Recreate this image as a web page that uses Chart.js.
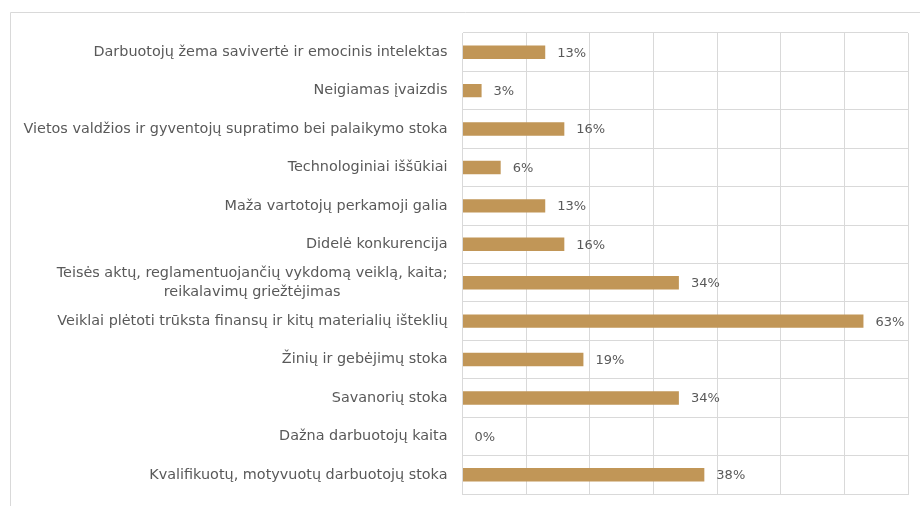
<!DOCTYPE html>
<html>
<head>
<meta charset="utf-8">
<script src="https://cdn.jsdelivr.net/npm/chart.js@4/dist/chart.umd.min.js"></script>
<style>
  html, body { margin: 0; padding: 0; background: #fff; }
  #wrap { width: 920px; height: 506px; }
</style>
</head>
<body>
<div id="wrap"><canvas id="c" width="920" height="506"></canvas></div>
<script>
// categories, top to bottom
const categories = [
  'Darbuotojų žema savivertė ir emocinis intelektas',
  'Neigiamas įvaizdis',
  'Vietos valdžios ir gyventojų supratimo bei palaikymo stoka',
  'Technologiniai iššūkiai',
  'Maža vartotojų perkamoji galia',
  'Didelė konkurencija',
  ['Teisės aktų, reglamentuojančių vykdomą veiklą, kaita;', 'reikalavimų griežtėjimas'],
  'Veiklai plėtoti trūksta finansų ir kitų materialių išteklių',
  'Žinių ir gebėjimų stoka',
  'Savanorių stoka',
  'Dažna darbuotojų kaita',
  'Kvalifikuotų, motyvuotų darbuotojų stoka'
];
const values = [13, 3, 16, 6, 13, 16, 34, 63, 19, 34, 0, 38];
const xMax = 70;
const xStep = 10;

const FONT = '"DejaVu Sans", sans-serif';
const textColor = '#595959';
const gridColor = '#d9d9d9';

// frame lines (cropped outer border) + category labels + value labels
const drawExtras = {
  id: 'drawExtras',
  afterDraw(chart) {
    const ctx = chart.ctx;
    const area = chart.chartArea;
    const y = chart.scales.y;
    const x = chart.scales.x;
    ctx.save();
    ctx.strokeStyle = gridColor;
    ctx.lineWidth = 1;
    ctx.beginPath();
    ctx.moveTo(10.5, 506);
    ctx.lineTo(10.5, 12.5);
    ctx.lineTo(920, 12.5);
    ctx.stroke();

    ctx.fillStyle = textColor;
    ctx.font = '14.4px ' + FONT;
    ctx.textBaseline = 'middle';
    const lineH = 19;
    categories.forEach((lab, i) => {
      const lines = Array.isArray(lab) ? lab : [lab];
      const widths = lines.map(l => ctx.measureText(l).width);
      const maxW = Math.max(...widths);
      const right = area.left - 15;
      const cy = y.getPixelForValue(i);
      lines.forEach((l, k) => {
        const ly = cy + (k - (lines.length - 1) / 2) * lineH;
        ctx.textAlign = 'center';
        ctx.fillText(l, right - maxW / 2, ly);
      });
    });

    ctx.font = '13px ' + FONT;
    ctx.textAlign = 'left';
    values.forEach((v, i) => {
      const px = x.getPixelForValue(v);
      const cy = y.getPixelForValue(i);
      ctx.fillText(v + '%', px + 12, cy + 1);
    });
    ctx.restore();
  }
};

new Chart(document.getElementById('c'), {
  type: 'bar',
  data: {
    labels: categories,
    datasets: [{
      data: values,
      backgroundColor: '#c19657',
      categoryPercentage: 1,
      barPercentage: 0.35
    }]
  },
  options: {
    indexAxis: 'y',
    responsive: false,
    animation: false,
    layout: { padding: { top: 33, right: 12, bottom: 12, left: 0 } },
    plugins: { legend: { display: false }, tooltip: { enabled: false } },
    scales: {
      x: {
        min: 0,
        max: xMax,
        ticks: { display: false, stepSize: xStep },
        grid: { color: gridColor, drawTicks: false },
        border: { color: gridColor },
        afterFit(s) { s.height = 0; }
      },
      y: {
        ticks: { display: false },
        grid: { color: gridColor, drawTicks: false },
        border: { color: gridColor },
        afterFit(s) { s.width = 462.5; }
      }
    }
  },
  plugins: [drawExtras]
});
</script>
</body>
</html>
